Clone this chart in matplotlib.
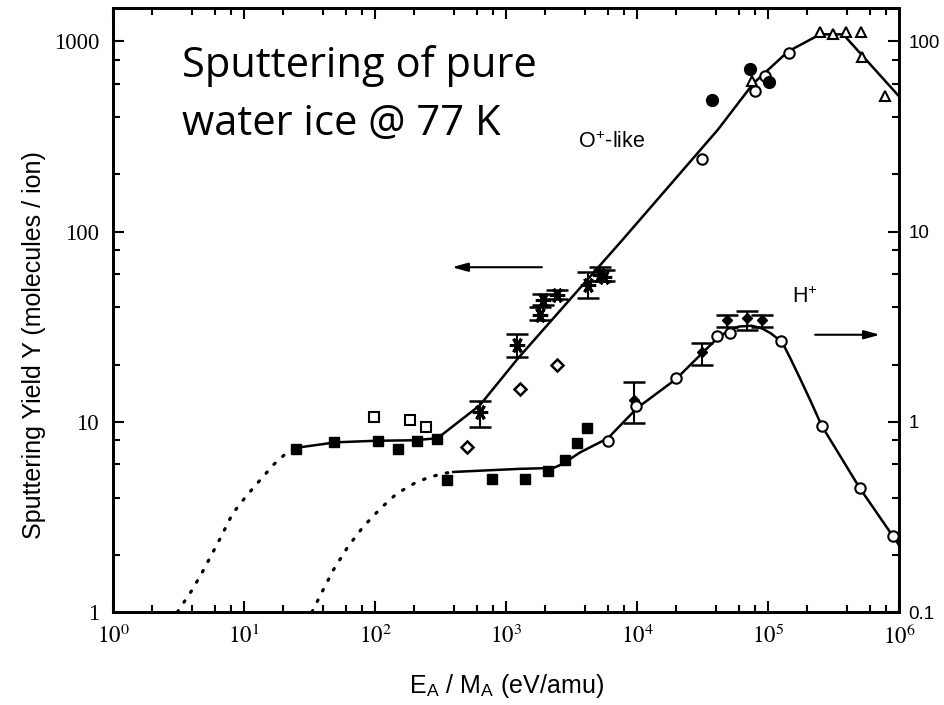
import matplotlib.pyplot as plt
from matplotlib.ticker import LogLocator, NullFormatter

plt.rcParams['mathtext.fontset'] = 'stix'

# ---- O+-like data, left axis (molecules / ion) ----
o_fit_x = [25, 50, 100, 200, 300, 630, 1230, 7800, 41500, 77000, 142000, 250000, 375000, 1e6]
o_fit_y = [7.3, 7.8, 7.95, 8.0, 8.2, 12.2, 21.5, 91, 344, 600, 885, 1090, 1090, 515]
o_dot_x = [3.1, 4.0, 4.9, 6.5, 8.2, 10.5, 13.3, 17, 21.3, 25]
o_dot_y = [1.0, 1.3, 1.66, 2.4, 3.3, 4.1, 4.95, 6.0, 6.9, 7.3]

o_sq_x = [25, 49, 105, 150, 210, 298]
o_sq_y = [7.2, 7.8, 7.9, 7.2, 7.9, 8.1]
o_osq_x = [98, 186, 245]
o_osq_y = [10.6, 10.2, 9.4]
o_dia_x = [500, 1280, 2450]
o_dia_y = [7.4, 14.9, 20]
ast_x = [630, 1210, 1820, 1910, 2450, 4250, 5200, 5600]
ast_y = [11.3, 25.4, 36.6, 43.9, 46.6, 52.7, 59, 58]
ast_lo = [9.4, 22, 34.4, 41, 44, 45, 55, 55]
ast_hi = [12.9, 29, 40, 47, 49.5, 61, 65, 63]
o_oc_x = [31600, 79400, 95000, 145000]
o_oc_y = [240, 546, 660, 865]
o_fc_x = [37300, 73000, 102000]
o_fc_y = [490, 713, 609]
o_tri_x = [75000, 249000, 313000, 394000, 513000, 522000, 782000]
o_tri_y = [620, 1115, 1088, 1115, 1115, 824, 515]

# ---- H+ data, right axis ----
h_fit_x = [395, 1280, 2300, 2700, 3670, 6000, 10000, 19900, 31500, 40000, 49000, 60000,
           75000, 90000, 105000, 120000, 135000, 150000, 175000, 210000, 258000, 500000, 1e6]
h_fit_y = [0.545, 0.566, 0.572, 0.60, 0.69, 0.82, 1.18, 1.68, 2.3, 2.7, 3.0, 3.17,
           3.2, 3.1, 2.92, 2.72, 2.45, 2.12, 1.7, 1.3, 0.95, 0.45, 0.225]
h_dot_x = [33, 40, 48, 62, 81, 110, 147, 200, 250, 330, 395]
h_dot_y = [0.1, 0.13, 0.166, 0.22, 0.28, 0.35, 0.42, 0.475, 0.507, 0.535, 0.545]

h_sq_x = [355, 780, 1400, 2100, 2800, 3500, 4150]
h_sq_y = [0.495, 0.50, 0.50, 0.55, 0.63, 0.77, 0.93]
h_oc_x = [6000, 9800, 20000, 40800, 51000, 125000, 258000, 500000, 900000]
h_oc_y = [0.795, 1.21, 1.69, 2.84, 2.94, 2.67, 0.95, 0.45, 0.25]
hd_x = [9500, 31500, 49000, 69000, 90000]
hd_y = [1.30, 2.33, 3.44, 3.53, 3.44]
hd_lo = [0.98, 2.0, 3.16, 3.05, 3.16]
hd_hi = [1.62, 2.6, 3.66, 3.84, 3.66]

x_ticks = [1, 10, 100, 1e3, 1e4, 1e5, 1e6]
x_labels = ['$10^{%d}$' % i for i in range(7)]
yl_ticks = [1, 10, 100, 1000]
yl_labels = ['1', '10', '100', '1000']
yr_ticks = [0.1, 1, 10, 100]
yr_labels = ['0.1', '1', '10', '100']

fig = plt.figure(figsize=(9.45, 7.05), dpi=100)
ax = fig.add_axes([0.1196, 0.1319, 0.8317, 0.8568])
ax2 = ax.twinx()

for a in (ax, ax2):
    a.set_xscale('log')
    a.set_yscale('log')
    for s in a.spines.values():
        s.set_linewidth(2)

ax.set_xlim(1, 1e6)
ax.set_ylim(1, 1500)
ax2.set_ylim(0.1, 150)

k = 'black'
dots = (0, (0.5, 3.2))
# upper curve
ax.plot(o_fit_x, o_fit_y, color=k, lw=1.8)
ax.plot(o_dot_x, o_dot_y, color=k, lw=2.3, linestyle=dots, dash_capstyle='round')
ax.errorbar(ast_x, ast_y, yerr=[[y - l for y, l in zip(ast_y, ast_lo)],
                                [h - y for y, h in zip(ast_y, ast_hi)]],
            fmt='none', ecolor=k, elinewidth=1.5, capsize=8, capthick=1.8)
ax.plot(ast_x, ast_y, ls='none', marker=(6, 2, 90), ms=11, mew=2.2, color=k)
ax.plot(o_sq_x, o_sq_y, 's', ms=7, color=k)
ax.plot(o_osq_x, o_osq_y, 's', ms=6.5, mfc='white', mec=k, mew=1.5)
ax.plot(o_dia_x, o_dia_y, 'D', ms=6.5, mfc='white', mec=k, mew=1.8)
ax.plot(o_oc_x, o_oc_y, 'o', ms=7.5, mfc='white', mec=k, mew=1.5)
ax.plot(o_fc_x, o_fc_y, 'o', ms=8.5, color=k)
ax.plot(o_tri_x, o_tri_y, '^', ms=7.5, mfc='white', mec=k, mew=1.5)

# lower curve (right axis)
ax2.plot(h_fit_x, h_fit_y, color=k, lw=1.8)
ax2.plot(h_dot_x, h_dot_y, color=k, lw=2.3, linestyle=dots, dash_capstyle='round')
ax2.errorbar(hd_x, hd_y, yerr=[[y - l for y, l in zip(hd_y, hd_lo)],
                               [h - y for y, h in zip(hd_y, hd_hi)]],
             fmt='none', ecolor=k, elinewidth=1.5, capsize=8, capthick=1.8)
ax2.plot(hd_x, hd_y, 'D', ms=5.5, color=k)
ax2.plot(h_sq_x, h_sq_y, 's', ms=7, color=k)
ax2.plot(h_oc_x, h_oc_y, 'o', ms=7.5, mfc='white', mec=k, mew=1.5)

# labels and arrows
ax.text(6400, 294, 'O$^\\mathregular{+}$-like', ha='center', va='center',
        fontsize=15.5, family='Liberation Sans')
ax2.text(191000, 4.5, 'H$^\\mathregular{+}$', ha='center', va='center',
         fontsize=15.5, family='Liberation Sans')
arrow = dict(arrowstyle='-|>,head_length=0.47,head_width=0.13', color=k, lw=1.5,
             mutation_scale=20, shrinkA=0, shrinkB=0)
ax.annotate('', xy=(387, 65), xytext=(1880, 65), arrowprops=arrow)
ax2.annotate('', xy=(716000, 2.87), xytext=(229000, 2.87), arrowprops=arrow)

# ticks
sub = [2, 4, 6, 8]
ax.xaxis.set_minor_locator(LogLocator(base=10, subs=sub, numticks=20))
ax.xaxis.set_minor_formatter(NullFormatter())
ax.yaxis.set_minor_locator(LogLocator(base=10, subs=sub, numticks=20))
ax.yaxis.set_minor_formatter(NullFormatter())
ax2.yaxis.set_minor_locator(LogLocator(base=10, subs=sub, numticks=20))
ax2.yaxis.set_minor_formatter(NullFormatter())

ax.set_xticks(x_ticks)
ax.set_xticklabels(x_labels, fontsize=16.5)
ax.set_yticks(yl_ticks)
ax.set_yticklabels(yl_labels, fontsize=16.5, family='Liberation Serif')
ax2.set_yticks(yr_ticks)
ax2.set_yticklabels(yr_labels, fontsize=13.5, family='Liberation Sans')

ax.tick_params(which='both', direction='in', top=True, right=False, width=1.5)
ax.tick_params(which='major', length=8)
ax.tick_params(which='minor', length=5)
ax.tick_params(axis='x', pad=9)
ax.tick_params(axis='y', pad=10)
ax2.tick_params(which='both', direction='in', width=1.5, pad=7)
ax2.tick_params(which='major', length=8)
ax2.tick_params(which='minor', length=5)

ax.set_ylabel('Sputtering Yield Y (molecules / ion)', fontsize=18, family='Liberation Sans')
ax.yaxis.set_label_coords(-0.085, 0.442)
ax.set_xlabel('E$_\\mathregular{A}$ / M$_\\mathregular{A}$ (eV/amu)', fontsize=18,
              family='Liberation Sans')
ax.xaxis.set_label_coords(0.5, -0.0993)

fig.text(0.1926, 0.8908, 'Sputtering of pure', fontsize=30, family='Open Sans', va='baseline')
fig.text(0.1926, 0.8085, 'water ice @ 77 K', fontsize=30, family='Open Sans', va='baseline')

fig.savefig('out.png', dpi=100)
